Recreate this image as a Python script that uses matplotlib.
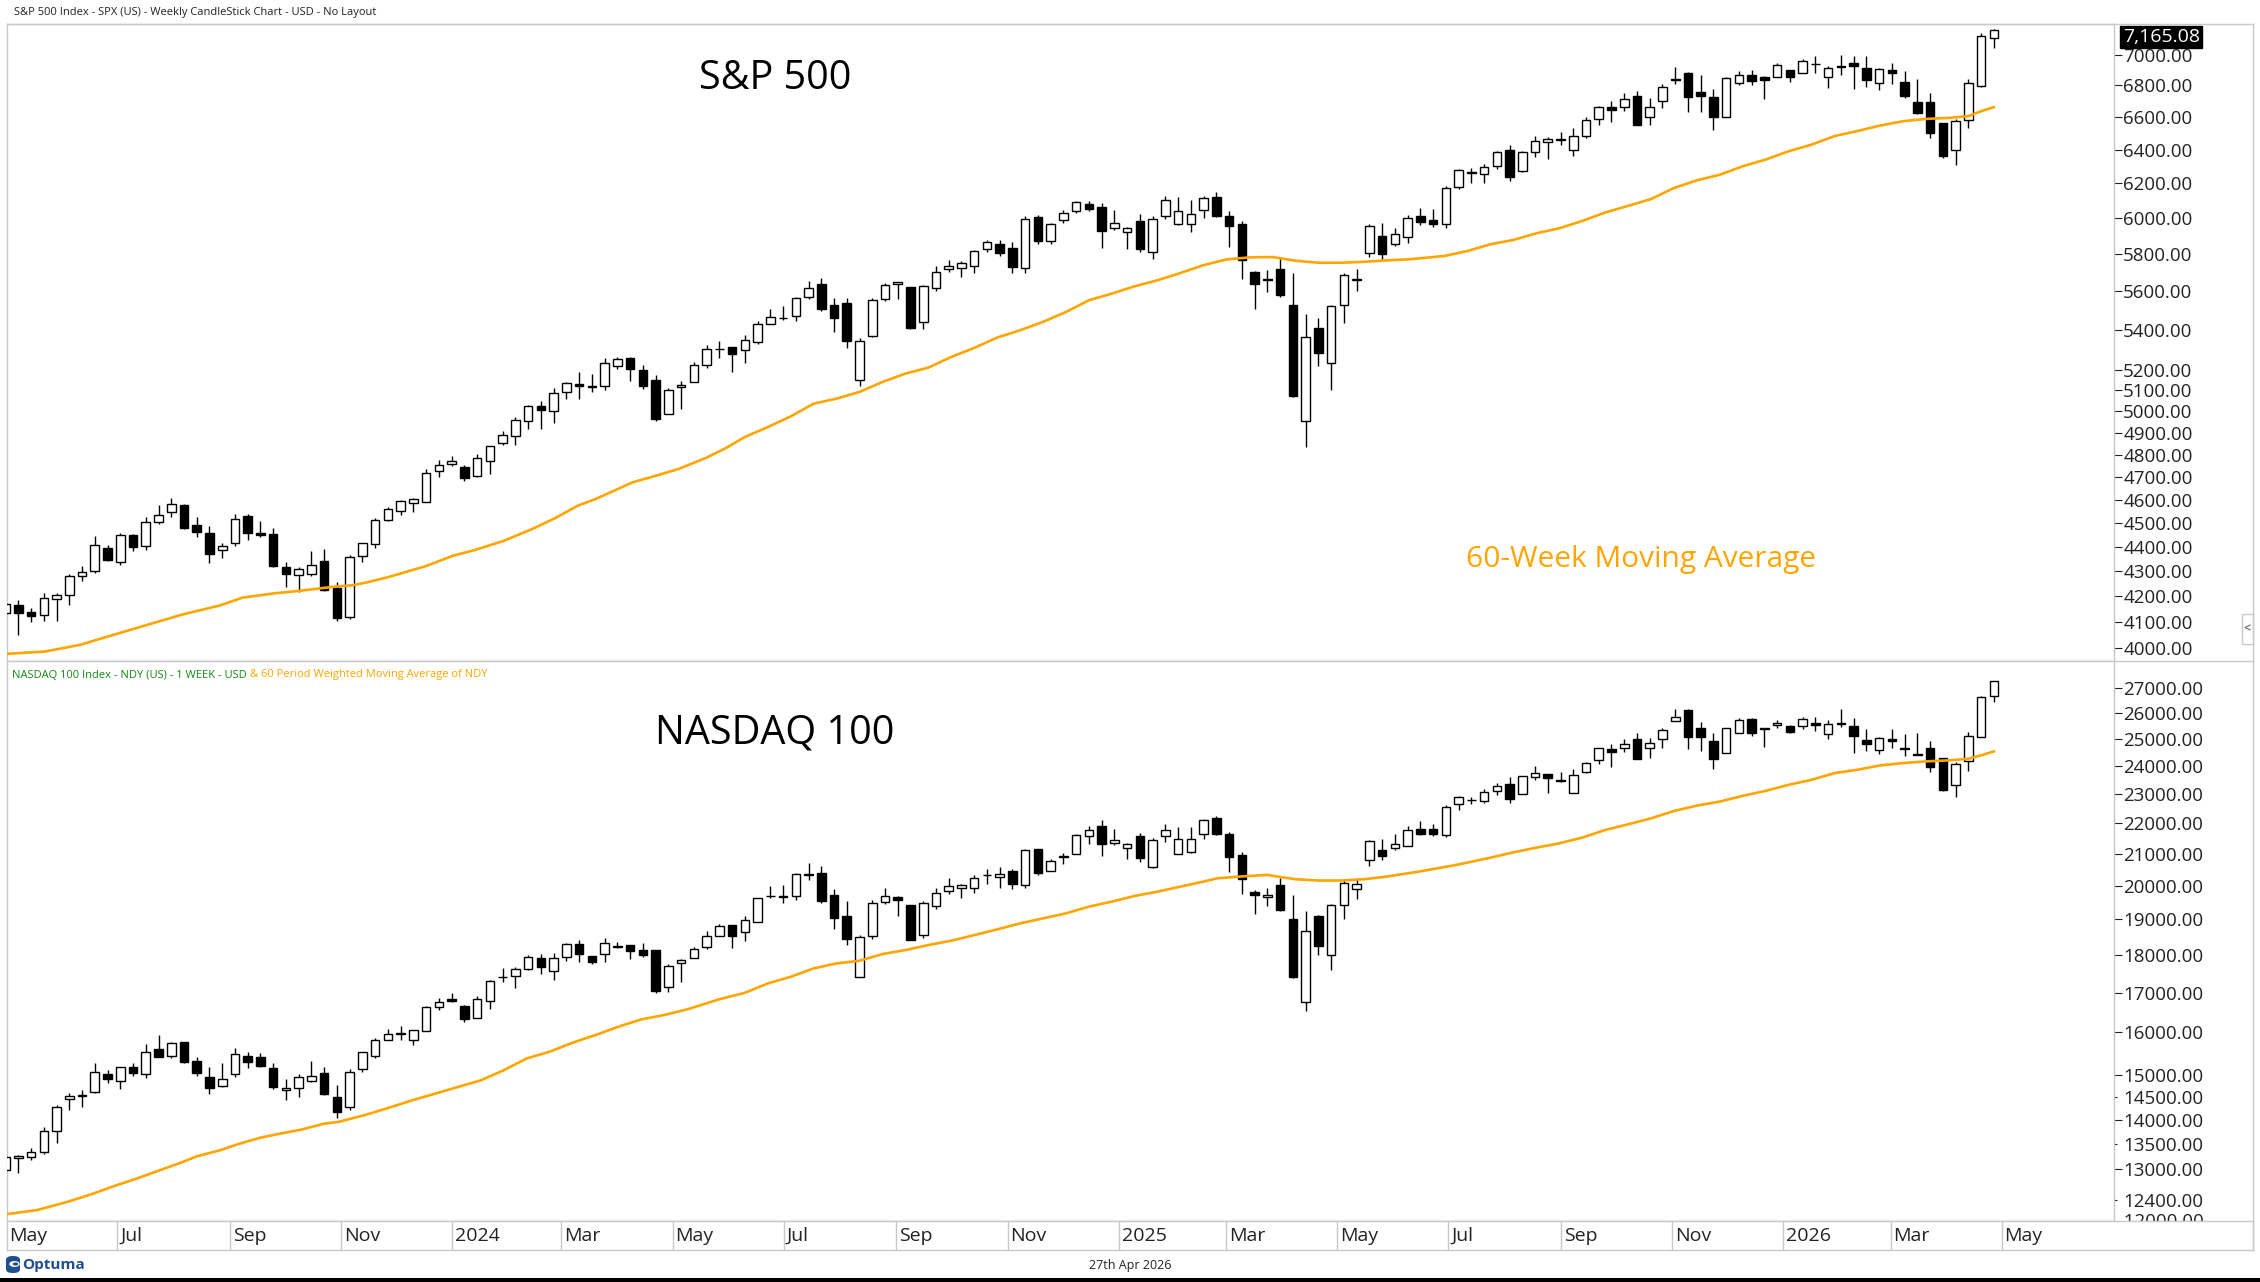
import numpy as np
import pandas as pd
import matplotlib
matplotlib.use("Agg")
import matplotlib.pyplot as plt
import matplotlib.dates as mdates
from matplotlib.lines import Line2D
from matplotlib.patches import Rectangle, FancyBboxPatch, Circle
from matplotlib.transforms import Bbox, TransformedBbox, blended_transform_factory
from matplotlib.ticker import FixedLocator, FixedFormatter, NullLocator

plt.rcParams["font.family"] = ["Open Sans", "DejaVu Sans"]

# weekly bars, week ending Friday
weeks = pd.date_range("2023-04-28", periods=157, freq="W-FRI")

spx_open = [4134, 4166, 4138, 4126, 4190, 4206, 4282, 4300, 4397, 4337,
            4450, 4404, 4506, 4547, 4578, 4492, 4458, 4389, 4415, 4530,
            4458, 4453, 4316, 4284, 4289, 4343, 4235, 4120, 4364, 4412,
            4512, 4554, 4586, 4593, 4725, 4758, 4745, 4703, 4772, 4853,
            4888, 4957, 5026, 5003, 5093, 5132, 5123, 5123, 5219, 5257,
            5201, 5149, 4987, 5116, 5142, 5225, 5305, 5315, 5298, 5341,
            5432, 5459, 5471, 5572, 5638, 5526, 5537, 5152, 5371, 5557,
            5637, 5623, 5442, 5615, 5718, 5726, 5737, 5829, 5857, 5833,
            5723, 6009, 5874, 5992, 6041, 6083, 6063, 5942, 5921, 5982,
            5812, 6014, 5969, 5969, 6046, 6121, 6014, 5968, 5705, 5658,
            5718, 5527, 4953, 5409, 5232, 5530, 5665, 5807, 5902, 5854,
            5896, 6010, 5990, 5967, 6180, 6265, 6255, 6304, 6400, 6271,
            6389, 6445, 6466, 6401, 6485, 6590, 6662, 6661, 6730, 6600,
            6702, 6835, 6878, 6760, 6725, 6600, 6813, 6870, 6853, 6857,
            6900, 6883, 6940, 6857, 6917, 6943, 6911, 6814, 6900, 6821,
            6692, 6692, 6566, 6398, 6581, 6799, 7109]
spx_high = [4170, 4187, 4154, 4213, 4212, 4290, 4323, 4448, 4409, 4458,
            4456, 4527, 4578, 4607, 4584, 4527, 4490, 4418, 4541, 4541,
            4511, 4478, 4339, 4317, 4385, 4393, 4259, 4366, 4418, 4520,
            4568, 4599, 4609, 4738, 4778, 4793, 4755, 4802, 4842, 4907,
            4975, 5030, 5048, 5111, 5140, 5189, 5179, 5261, 5265, 5264,
            5222, 5176, 5114, 5146, 5239, 5325, 5342, 5315, 5375, 5447,
            5505, 5524, 5570, 5655, 5670, 5566, 5566, 5358, 5563, 5643,
            5651, 5623, 5636, 5733, 5767, 5765, 5822, 5878, 5878, 5867,
            6012, 6017, 5973, 6044, 6099, 6099, 6085, 6049, 5949, 6021,
            6014, 6128, 6120, 6101, 6127, 6147, 6043, 5986, 5706, 5715,
            5786, 5695, 5481, 5459, 5528, 5700, 5720, 5969, 5973, 5944,
            6016, 6059, 6051, 6187, 6284, 6290, 6315, 6395, 6427, 6395,
            6481, 6480, 6508, 6532, 6600, 6672, 6699, 6750, 6764, 6717,
            6807, 6920, 6885, 6869, 6775, 6853, 6896, 6901, 6860, 6945,
            6900, 6969, 6991, 6928, 6998, 6991, 6991, 6911, 6943, 6896,
            6842, 6754, 6566, 6587, 6840, 7143, 7172]
spx_low = [4049, 4048, 4099, 4104, 4103, 4166, 4261, 4292, 4341, 4328,
           4385, 4386, 4498, 4528, 4474, 4443, 4335, 4356, 4403, 4430,
           4442, 4317, 4238, 4216, 4283, 4223, 4104, 4111, 4340, 4396,
           4508, 4537, 4546, 4593, 4700, 4751, 4683, 4699, 4715, 4845,
           4845, 4919, 4920, 4946, 5057, 5057, 5094, 5101, 5204, 5146,
           5107, 4954, 4987, 5011, 5142, 5208, 5257, 5191, 5234, 5331,
           5428, 5448, 5447, 5557, 5497, 5390, 5306, 5120, 5363, 5550,
           5560, 5403, 5406, 5600, 5702, 5674, 5696, 5813, 5791, 5696,
           5696, 5853, 5855, 5971, 6030, 6040, 5832, 5932, 5829, 5809,
           5773, 5993, 5962, 5923, 6003, 6008, 5837, 5666, 5505, 5597,
           5572, 5069, 4835, 5220, 5101, 5433, 5602, 5786, 5768, 5843,
           5861, 5963, 5952, 5944, 6170, 6201, 6201, 6282, 6212, 6269,
           6358, 6343, 6430, 6360, 6473, 6551, 6570, 6641, 6550, 6550,
           6654, 6808, 6631, 6631, 6521, 6600, 6800, 6800, 6713, 6857,
           6825, 6883, 6883, 6786, 6868, 6778, 6793, 6771, 6810, 6722,
           6622, 6474, 6352, 6308, 6534, 6789, 7046]
spx_close = [4169, 4136, 4124, 4192, 4205, 4282, 4299, 4410, 4348, 4450,
             4399, 4505, 4536, 4582, 4478, 4464, 4370, 4406, 4516, 4457,
             4450, 4320, 4288, 4308, 4327, 4224, 4117, 4358, 4415, 4514,
             4559, 4594, 4604, 4719, 4755, 4770, 4697, 4784, 4840, 4891,
             4959, 5027, 5006, 5089, 5137, 5124, 5117, 5234, 5254, 5204,
             5123, 4967, 5100, 5128, 5223, 5303, 5305, 5278, 5347, 5432,
             5465, 5460, 5567, 5615, 5505, 5459, 5346, 5344, 5554, 5634,
             5648, 5408, 5626, 5703, 5738, 5751, 5815, 5864, 5808, 5728,
             5995, 5870, 5969, 6032, 6090, 6051, 5930, 5970, 5942, 5827,
             5997, 6101, 6040, 6026, 6115, 6013, 5955, 5770, 5639, 5667,
             5581, 5074, 5363, 5283, 5525, 5686, 5660, 5958, 5803, 5912,
             6000, 5977, 5968, 6173, 6279, 6260, 6297, 6389, 6238, 6389,
             6450, 6467, 6460, 6482, 6584, 6664, 6643, 6716, 6553, 6664,
             6792, 6840, 6728, 6734, 6603, 6849, 6870, 6827, 6834, 6930,
             6857, 6961, 6937, 6911, 6928, 6928, 6835, 6904, 6878, 6735,
             6627, 6503, 6364, 6575, 6814, 7125, 7165.08]

ndx_open = [12978, 13211, 13231, 13333, 13778, 14451, 14540, 14606, 15011, 14859,
            15171, 15011, 15592, 15442, 15758, 15327, 14958, 14738, 15011, 15442,
            15403, 15148, 14665, 14702, 14859, 15034, 14496, 14276, 15125, 15442,
            15829, 15975, 15829, 16046, 16620, 16823, 16654, 16346, 16780, 17420,
            17429, 17631, 17929, 17569, 17947, 18290, 17966, 18020, 18235, 18262,
            18134, 18134, 17151, 17795, 17929, 18207, 18530, 18853, 18643, 18930,
            19700, 19680, 19693, 20369, 20400, 19733, 19103, 17409, 18530, 19513,
            19663, 19435, 18567, 19396, 19843, 19943, 19943, 20330, 20266, 20441,
            20013, 21161, 20441, 20939, 20981, 21557, 21887, 21350, 21189, 21557,
            20577, 21557, 21002, 21055, 21645, 22176, 21645, 20970, 19813, 19663,
            20033, 19006, 16747, 19093, 18012, 19435, 19913, 20803, 21129, 21189,
            21255, 21788, 21788, 21601, 22638, 22780, 22763, 23110, 23345, 22981,
            23607, 23703, 23480, 23016, 23763, 24211, 24602, 24640, 24991, 24640,
            24991, 25694, 26113, 25437, 24916, 24455, 25233, 25759, 25420, 25526,
            25488, 25488, 25629, 25169, 25629, 25488, 24953, 24578, 24991, 24640,
            24418, 24640, 24272, 23310, 24175, 25081, 26692]
ndx_high = [13280, 13275, 13414, 13848, 14327, 14583, 14657, 15264, 15110, 15171,
            15264, 15711, 15933, 15774, 15758, 15403, 15187, 15264, 15616, 15537,
            15497, 15264, 14897, 15011, 15319, 15187, 14770, 15125, 15537, 15869,
            16095, 16152, 16071, 16654, 16848, 16994, 16679, 16908, 17325, 17658,
            17676, 17993, 18038, 18066, 18318, 18411, 17966, 18458, 18364, 18262,
            18318, 18134, 17765, 17903, 18225, 18663, 18882, 18853, 19093, 19643,
            19983, 20013, 20400, 20710, 20605, 19893, 19533, 18567, 19563, 19943,
            19683, 19435, 19543, 19943, 20246, 20064, 20318, 20504, 20577, 20504,
            21161, 21161, 20824, 21023, 21645, 21887, 22109, 21809, 21340, 21678,
            21502, 21954, 21865, 21865, 22143, 22221, 21700, 21055, 19863, 19943,
            20246, 19713, 19238, 19122, 19464, 20215, 20235, 21426, 21480, 21623,
            21887, 22067, 21966, 22615, 22924, 22878, 23168, 23368, 23583, 23631,
            23993, 23703, 23763, 23872, 24127, 24640, 24790, 24979, 25207, 25042,
            25437, 26179, 26153, 25656, 25207, 25437, 25811, 25811, 25437, 25720,
            25526, 25850, 25850, 25720, 26179, 25824, 25398, 25081, 25373, 25169,
            25207, 24916, 24272, 24152, 25246, 26705, 27315]
ndx_low = [12900, 12926, 13177, 13293, 13520, 14218, 14291, 14583, 14806, 14679,
           14981, 14935, 15418, 15380, 15264, 14981, 14570, 14716, 14958, 15148,
           15171, 14687, 14437, 14510, 14829, 14555, 14053, 14218, 15072, 15395,
           15829, 15813, 15694, 16046, 16553, 16763, 16266, 16346, 16570, 17281,
           17125, 17587, 17481, 17325, 17840, 17813, 17750, 17813, 18179, 17885,
           17947, 16976, 17019, 17281, 17929, 18151, 18530, 18197, 18391, 18930,
           19643, 19483, 19583, 20184, 19483, 18712, 18288, 17409, 18456, 19464,
           19106, 18409, 18474, 19317, 19763, 19643, 19793, 20064, 19943, 19893,
           19943, 20338, 20441, 20666, 20981, 21318, 20928, 21265, 20814, 20740,
           20557, 21372, 20981, 21034, 21459, 21612, 20421, 19743, 19152, 19396,
           19248, 17383, 16540, 17994, 17586, 19006, 19593, 20597, 20803, 21108,
           21233, 21601, 21569, 21547, 22422, 22638, 22695, 22958, 22672, 22981,
           23487, 23016, 23405, 23016, 23727, 24054, 23945, 24517, 24248, 24297,
           24665, 25694, 24615, 24541, 23884, 24455, 25207, 25118, 24678, 25437,
           25207, 25398, 25309, 24979, 25463, 24480, 24554, 24418, 24640, 24357,
           24393, 23787, 23110, 22878, 23823, 25081, 26459]
ndx_close = [13231, 13265, 13333, 13778, 14276, 14532, 14530, 15072, 14897, 15171,
             15034, 15537, 15418, 15734, 15288, 15034, 14702, 14912, 15474, 15288,
             15210, 14716, 14702, 14958, 14981, 14570, 14185, 15072, 15521, 15829,
             15973, 15965, 16071, 16620, 16763, 16789, 16322, 16823, 17290, 17411,
             17631, 17947, 17676, 17929, 18290, 18038, 17813, 18318, 18225, 18115,
             17993, 17045, 17702, 17876, 18152, 18532, 18806, 18530, 18997, 19643,
             19683, 19663, 20369, 20338, 19543, 19055, 18437, 18502, 19483, 19693,
             19563, 18409, 19483, 19793, 19993, 20033, 20246, 20338, 20348, 20064,
             21108, 20400, 20771, 20896, 21612, 21776, 21318, 21448, 21318, 20865,
             21426, 21776, 21480, 21480, 22109, 21645, 20896, 20215, 19733, 19733,
             19268, 17409, 18665, 18243, 19435, 20094, 20064, 21404, 20928, 21318,
             21760, 21634, 21634, 22535, 22878, 22775, 23075, 23274, 22809, 23631,
             23727, 23547, 23464, 23667, 24090, 24640, 24517, 24790, 24248, 24828,
             25360, 25850, 25081, 25055, 24248, 25437, 25720, 25233, 25398, 25629,
             25246, 25785, 25552, 25591, 25578, 25118, 24790, 25017, 24928, 24602,
             24393, 23945, 23133, 24054, 25118, 26665, 27315]

# 60-week moving averages: (week number, value)
spx_ma_week = [0, 3.1, 5.9, 8.1, 9.9, 12.1, 13.9, 16.8, 18.6, 21.1, 22.9, 24.7, 25.9,
               27.2, 28.3, 30.1, 33, 35.1, 36.9, 39.1, 41.3, 43.1, 44.9, 46.3, 49.2,
               50.6, 52.8, 55, 56.5, 58, 59.8, 61.6, 63.4, 65.2, 67, 68.8, 70.6, 72.4,
               74.2, 76, 77.8, 79.6, 81.4, 83.2, 85, 86.8, 88.6, 90.4, 92.2, 94, 95.8,
               97.6, 99.4, 101.2, 103, 104.8, 106.6, 108.4, 110.2, 112.9, 114.7,
               116.5, 118.3, 120.1, 121.9, 123.7, 125.5, 127.3, 129.1, 130.9, 132.7,
               134.5, 136.3, 138.1, 139.9, 141.7, 143.5, 145.3, 147.1, 148.9, 150.7,
               152.5, 154, 155, 156]
spx_ma = [3978, 3987, 4013, 4045, 4071, 4103, 4129, 4164, 4195, 4212, 4221, 4232, 4239,
          4244, 4255, 4278, 4322, 4364, 4389, 4426, 4475, 4521, 4575, 4604, 4677,
          4699, 4736, 4787, 4830, 4881, 4927, 4977, 5037, 5061, 5093, 5141, 5182, 5211,
          5264, 5309, 5361, 5398, 5441, 5492, 5553, 5588, 5627, 5659, 5698, 5740, 5771,
          5782, 5784, 5764, 5753, 5753, 5758, 5766, 5772, 5790, 5817,
          5854, 5878, 5915, 5943, 5984, 6032, 6070, 6109, 6173, 6218,
          6251, 6301, 6341, 6391, 6431, 6483, 6514, 6548, 6575, 6589,
          6595, 6606, 6637, 6662]
ndx_ma_week = [0, 2.5, 4.9, 6.7, 8.5, 10.3, 12.1, 13.9, 15, 16.8, 18.2, 20, 21.8, 23.2,
               25, 26.1, 28.3, 30.1, 31.9, 33.7, 35.5, 37.3, 39.1, 40.9, 42.7, 44.5,
               46.3, 48.1, 49.9, 51.7, 53.5, 56, 58, 59.8, 61.6, 63.4, 65.2, 67, 68.8,
               70.6, 72.4, 74.2, 76, 77.8, 79.6, 81.4, 83.2, 85, 86.8, 88.6, 90.4, 92.2,
               94, 95.1, 96.9, 99, 100.1, 101.2, 103, 104.8, 106.6, 108.4, 110.9, 113.8,
               116.5, 118.3, 120.1, 121.9, 123.7, 125.5, 127.3, 129.1, 130.9, 132.7,
               134.5, 136.3, 138.1, 139.9, 141.7, 143.5, 145.3, 147.1, 148.9, 150.7,
               152.5, 154, 155, 156]
ndx_ma = [12135, 12214, 12370, 12508, 12666, 12813, 12976, 13140, 13253, 13374, 13497,
          13635, 13732, 13802, 13929, 13964, 14120, 14271, 14431, 14578, 14727, 14878,
          15108, 15382, 15539, 15754, 15938, 16142, 16323, 16431, 16573, 16828, 16993,
          17237, 17413, 17636, 17771, 17843, 18025, 18135, 18274, 18395, 18553, 18714,
          18886, 19030, 19176, 19373, 19521, 19691, 19821, 19973, 20125, 20228, 20280,
          20331, 20259, 20198, 20157, 20157, 20198, 20280, 20434, 20639, 20870, 21040,
          21190, 21330, 21515, 21766, 21955, 22156, 22406, 22590, 22728, 22927, 23102,
          23315, 23493, 23734, 23855, 24014, 24100, 24161, 24198, 24259, 24382, 24531]

spx_ticks = [4000, 4100, 4200, 4300, 4400, 4500, 4600, 4700, 4800, 4900, 5000,
             5100, 5200, 5400, 5600, 5800, 6000, 6200, 6400, 6600, 6800, 7000]
ndx_ticks = [13000, 14000, 15000, 16000, 17000, 18000, 19000, 20000, 21000,
             22000, 23000, 24000, 25000, 26000, 27000]
ndx_minor_ticks = [12400, 13500, 14500]
ndx_hidden_tick = 12000

month_starts = pd.date_range("2023-05-01", "2026-05-01", freq="2MS")
month_labels = ["May", "Jul", "Sep", "Nov", "2024", "Mar", "May", "Jul", "Sep",
                "Nov", "2025", "Mar", "May", "Jul", "Sep", "Nov", "2026", "Mar", "May"]

W, H = 2260, 1282
ORANGE = "#FFA500"
GRID = "#c8c8c8"
TXT = "#222222"
LOGO = "#1f4f8f"


def fx(px):
    return px / W


def fy(py):
    return 1 - py / H


fig = plt.figure(figsize=(W / 100, H / 100), dpi=100)

day0 = mdates.date2num(pd.Timestamp("2023-05-01"))
ppd = 1.8208  # pixels per day
xleft = day0 + (7 - 6.1) / ppd
xright = day0 + (2114 - 6.1) / ppd
xband = day0 + (2253 - 6.1) / ppd

xs = mdates.date2num(weeks) + 2.7


def week_x(w):
    return xs[0] + 7 * np.asarray(w, dtype=float)


def draw_candles(ax, o, h, l, c):
    o, h, l, c = map(np.asarray, (o, h, l, c))
    up = c >= o
    lo = np.minimum(o, c)
    hi = np.maximum(o, c)
    ax.vlines(xs, l, h, color="black", lw=1.0, zorder=2)
    ax.bar(xs[up], hi[up] - lo[up], bottom=lo[up], width=4.7, color="white",
           edgecolor="black", linewidth=1.0, zorder=3)
    ax.bar(xs[~up], hi[~up] - lo[~up], bottom=lo[~up], width=4.7, color="black",
           edgecolor="black", linewidth=1.0, zorder=3)


def style_axes(ax):
    for s in ax.spines.values():
        s.set_color(GRID)
        s.set_linewidth(1)
    ax.set_yscale("log")
    ax.set_xlim(xleft, xright)
    ax.tick_params(axis="x", which="both", bottom=False, labelbottom=False)
    ax.yaxis.tick_right()
    ax.yaxis.set_minor_locator(NullLocator())
    ax.tick_params(axis="y", which="major", direction="out", length=5.8, width=0.8,
                   pad=0.8, labelsize=13.5, colors=TXT)


# S&P 500 panel
ax1 = fig.add_axes([fx(7), fy(661), fx(2114) - fx(7), fy(24) - fy(661)])
draw_candles(ax1, spx_open, spx_high, spx_low, spx_close)
ax1.plot(week_x(spx_ma_week), spx_ma, color=ORANGE, lw=1.9, zorder=4,
         solid_joinstyle="round")
style_axes(ax1)
ax1.set_ylim(3951.6, 7205.7)
ax1.yaxis.set_major_locator(FixedLocator(spx_ticks))
ax1.yaxis.set_major_formatter(FixedFormatter([f"{t:.2f}" for t in spx_ticks]))
ax1.yaxis.set_minor_locator(NullLocator())

last = spx_close[-1]
ax1.annotate(f"{last:,.2f}", xy=(1, last), xycoords=("axes fraction", "data"),
             xytext=(34, -5), textcoords="offset points", ha="center", va="center",
             fontsize=14, color="white", zorder=10, annotation_clip=False,
             bbox=dict(boxstyle="square,pad=0.12", fc="black", ec="black"))

# NASDAQ 100 panel
ax2 = fig.add_axes([fx(7), fy(1221), fx(2114) - fx(7), fy(661) - fy(1221)])
draw_candles(ax2, ndx_open, ndx_high, ndx_low, ndx_close)
ax2.plot(week_x(ndx_ma_week), ndx_ma, color=ORANGE, lw=1.9, zorder=4,
         solid_joinstyle="round")
style_axes(ax2)
ax2.set_ylim(12012, 28144)
ax2.yaxis.set_major_locator(FixedLocator(ndx_ticks))
ax2.yaxis.set_major_formatter(FixedFormatter([f"{t:.2f}" for t in ndx_ticks]))
ax2.yaxis.set_minor_locator(FixedLocator(ndx_minor_ticks))
ax2.yaxis.set_minor_formatter(FixedFormatter([f"{t:.2f}" for t in ndx_minor_ticks]))
ax2.tick_params(axis="y", which="minor", direction="out", length=2.2, width=0.8,
                pad=4.4, labelsize=13.5, colors=TXT, right=True, labelright=True,
                left=False, labelleft=False)

# the 12000 label sits just under the panel and is cut by the date band
clip = TransformedBbox(Bbox.from_extents(fx(2114), fy(1221), fx(2253), fy(661)),
                       fig.transFigure)
t12 = ax2.text(1.0, ndx_hidden_tick, f"  {ndx_hidden_tick:.2f}",
               transform=blended_transform_factory(ax2.transAxes, ax2.transData),
               ha="left", va="center", fontsize=13.5, color=TXT)
t12.set_clip_box(clip)
t12.set_clip_on(True)

# date band
band = fig.add_axes([fx(7), fy(1250), fx(2253) - fx(7), fy(1221) - fy(1250)])
band.set_xlim(xleft, xband)
band.set_ylim(0, 1)
band.set_xticks([])
band.set_yticks([])
for s in band.spines.values():
    s.set_color(GRID)
    s.set_linewidth(1)
for d, lab in zip(mdates.date2num(month_starts), month_labels):
    if d > xleft:
        band.axvline(d, color=GRID, lw=1)
    band.text(d + 1.6, 0.48, lab, ha="left", va="center", fontsize=14, color=TXT)

# outer frame pieces
for (xa, xb), (ya, yb) in [((7, 2253), (24, 24)), ((2114, 2253), (661, 661)),
                           ((2253, 2253), (24, 1250))]:
    fig.add_artist(Line2D([fx(xa), fx(xb)], [fy(ya), fy(yb)], color=GRID, lw=1,
                          transform=fig.transFigure))

# side tab
fig.add_artist(Rectangle((fx(2242), fy(644)), fx(11), 30 / H, transform=fig.transFigure,
                         fc="white", ec=GRID, lw=1))
fig.text(fx(2247.5), fy(629), "<", ha="center", va="center", fontsize=9,
         color="#777777", weight="bold")

# headers
fig.text(fx(14), fy(12), "S&P 500 Index - SPX (US) - Weekly CandleStick Chart - USD - No Layout",
         ha="left", va="center", fontsize=8, color=TXT)
t_green = fig.text(fx(12), fy(675), "NASDAQ 100 Index - NDY (US) - 1 WEEK - USD",
                   ha="left", va="center", fontsize=8, color="#138a13")
fig.canvas.draw()
bb = t_green.get_window_extent()
fig.text((bb.x1 + 3) / W, fy(675), "& 60 Period Weighted Moving Average of NDY",
         ha="left", va="center", fontsize=8, color=ORANGE)

# panel titles
fig.text(fx(775), fy(79), "S&P 500", ha="center", va="center", fontsize=28.5, color="black")
fig.text(fx(775), fy(733), "NASDAQ 100", ha="center", va="center", fontsize=28.5, color="black")
fig.text(fx(1641), fy(559), "60-Week Moving Average", ha="center", va="center",
         fontsize=21.5, color=ORANGE)

# footer: logo, date, dark bar
fig.add_artist(FancyBboxPatch((fx(6), fy(1273)), fx(14), 17 / H,
                              boxstyle="round,pad=0,rounding_size=0.003",
                              transform=fig.transFigure, fc=LOGO, ec="none"))
fig.add_artist(Circle((fx(14.5), fy(1264)), 5.2 / W, transform=fig.transFigure,
                      fc="white", ec="none"))
fig.add_artist(Circle((fx(15.5), fy(1264)), 2.8 / W, transform=fig.transFigure,
                      fc=LOGO, ec="none"))
fig.text(fx(22), fy(1265), "Optuma", ha="left", va="center", fontsize=11,
         color=LOGO, weight="bold")
fig.text(fx(1130), fy(1265), "27th Apr 2026", ha="center", va="center", fontsize=9, color=TXT)
fig.add_artist(Rectangle((0, 0), 1, 4 / H, transform=fig.transFigure, fc="black", ec="none"))

fig.savefig("out.png", dpi=100)
